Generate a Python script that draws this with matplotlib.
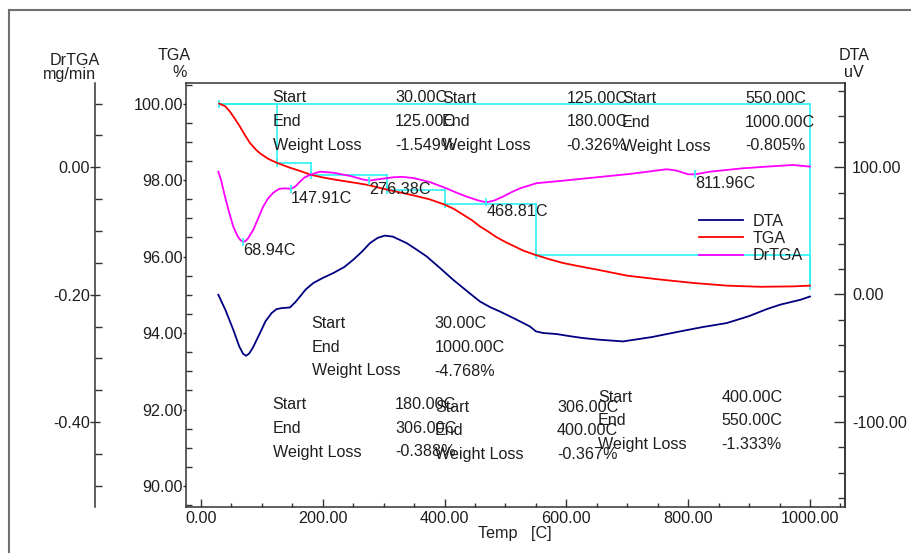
import numpy as np
import matplotlib
matplotlib.use("Agg")
import matplotlib.pyplot as plt
from matplotlib.lines import Line2D
from matplotlib.ticker import MultipleLocator, FormatStrFormatter

plt.rcParams['font.family'] = ['Liberation Sans', 'DejaVu Sans']

# ---------------- data ----------------
tga_T = [30, 40, 47.6, 55, 64, 72, 80.5, 90, 97, 110, 125, 145, 162.6, 180, 200, 217, 245, 272,
         306, 349, 375, 400, 415, 430, 445, 458, 472, 485, 500, 513, 530, 550, 570, 595, 620,
         650, 700, 754, 808, 863, 918, 972, 1000]
tga_val = [100.00, 99.93, 99.79, 99.62, 99.40, 99.18, 98.97, 98.80, 98.70, 98.56, 98.45, 98.33,
           98.24, 98.14, 98.07, 98.02, 97.95, 97.88, 97.75, 97.60, 97.50, 97.36, 97.25, 97.10,
           96.95, 96.79, 96.65, 96.51, 96.38, 96.28, 96.15, 96.04, 95.94, 95.83, 95.75, 95.66,
           95.50, 95.40, 95.31, 95.24, 95.21, 95.22, 95.24]

drtga_T = [28.5, 33, 39.4, 46, 53, 60, 64.5, 68.9, 73, 77, 86, 94, 102, 110, 118.7, 128, 138,
           147.9, 155, 162.6, 170, 179, 195, 217, 245, 265, 276.4, 290, 316, 330, 349, 375, 403,
           420, 436, 455, 468.8, 482, 496, 510, 524, 551, 595, 650, 704, 765, 781, 800, 812, 836,
           890, 929, 972, 1000]
drtga_val = [-0.007, -0.020, -0.046, -0.070, -0.093, -0.108, -0.114, -0.117, -0.116, -0.112,
             -0.098, -0.080, -0.062, -0.049, -0.040, -0.034, -0.033, -0.034, -0.030, -0.0226,
             -0.016, -0.012, -0.0069, -0.0085, -0.0136, -0.019, -0.021, -0.019, -0.0157, -0.015,
             -0.017, -0.023, -0.033, -0.040, -0.046, -0.052, -0.055, -0.052, -0.046, -0.039,
             -0.033, -0.025, -0.021, -0.0157, -0.0105, -0.0031, -0.0053, -0.011, -0.011,
             -0.0069, -0.0016, 0.001, 0.0036, 0.001]

dta_T = [28.5, 40, 53, 63, 69, 73.9, 79, 85, 96.9, 106, 116, 124, 132.5, 146, 155, 162.6, 172,
         184.4, 200, 217, 235, 250, 265, 277.5, 290, 302, 315, 337.7, 355, 370.6, 392, 414.3, 436,
         458, 475, 491, 515, 540, 550, 562, 584, 606, 628, 655, 693, 740, 787, 825, 863, 900,
         929, 951, 984, 1000]
dta_val = [-0.2, -12, -27.7, -41, -46.5, -48.2, -46.5, -42, -30.3, -21, -14.6, -11.5, -10.7,
           -10.2, -6, -1.6, 4, 9, 13, 16.8, 21.5, 27.3, 34, 40.4, 44.5, 46.3, 45.5, 40.4, 35,
           29.9, 21, 11.5, 3, -5.5, -10, -13.4, -19, -25.1, -29, -30.3, -31.1, -32.8, -34.3,
           -35.6, -36.9, -33.5, -29, -25.5, -22.5, -17, -11.5, -8, -4.2, -1.6]

# weight-loss steps: start, end, loss (%)
step_start = [30, 125, 180, 306, 400, 550]
step_end = [125, 180, 306, 400, 550, 1000]
step_loss = [-1.549, -0.326, -0.388, -0.367, -1.333, -0.805]
total_start, total_end, total_loss = 30, 1000, -4.768
start_level = 100.0

# DrTGA peaks
peak_T = [68.94, 147.91, 276.38, 468.81, 811.96]
peak_val = [-0.117, -0.034, -0.021, -0.055, -0.011]

x_ticks = [0, 200, 400, 600, 800, 1000]
tga_ticks = [90, 92, 94, 96, 98, 100]
drtga_ticks = [-0.40, -0.20, 0.00]
dta_ticks = [-100, 0, 100]

# ---------------- figure ----------------
W, H = 911, 553
def fx(x): return x / W
def fy(y): return 1 - y / H

fig = plt.figure(figsize=(W / 100, H / 100), dpi=100)
fig.patch.set_facecolor('white')

ax = fig.add_axes([fx(186), fy(507), 659 / W, 424 / H])
ax2 = ax.twinx()
ax3 = ax.twinx()

SP = '#333333'
TXT = '#1e1e1e'
FS = 11.6

ax.set_xlim(-24.6, 1057.5)
ax.set_ylim(89.45, 100.54)
ax2.set_ylim(-0.533, 0.1322)
ax3.set_ylim(-167.1, 166.3)

for a in (ax, ax2, ax3):
    for s in a.spines.values():
        s.set_color(SP)
        s.set_linewidth(1.1)

# main axis (TGA)
ax.set_xticks(x_ticks)
ax.xaxis.set_minor_locator(MultipleLocator(50))
ax.xaxis.set_major_formatter(FormatStrFormatter('%.2f'))
ax.set_yticks(tga_ticks)
ax.yaxis.set_minor_locator(MultipleLocator(0.5))
ax.yaxis.set_major_formatter(FormatStrFormatter('%.2f'))
ax.tick_params(axis='x', which='major', direction='in', length=6, pad=3, labelsize=FS,
               colors=SP, labelcolor=TXT, width=1)
ax.tick_params(axis='x', which='minor', direction='in', length=3, colors=SP, width=1)
ax.tick_params(axis='y', which='major', direction='out', length=2, pad=0.3, labelsize=FS,
               colors=SP, labelcolor=TXT, width=1)
ax.tick_params(axis='y', which='minor', direction='in', length=4, colors=SP, width=1)

# DrTGA axis (far left)
ax2.spines['left'].set_position(('axes', (95 - 186) / 659))
ax2.spines['right'].set_visible(False)
ax2.spines['top'].set_visible(False)
ax2.spines['bottom'].set_visible(False)
ax2.yaxis.tick_left()
ax2.set_yticks(drtga_ticks)
ax2.yaxis.set_minor_locator(MultipleLocator(0.05))
ax2.yaxis.set_major_formatter(FormatStrFormatter('%.2f'))
ax2.tick_params(axis='y', which='major', direction='inout', length=7, pad=0, labelsize=FS,
                colors=SP, labelcolor=TXT, width=1)
ax2.tick_params(axis='y', which='minor', direction='in', length=5, colors=SP, width=1)

# DTA axis (right)
ax3.spines['left'].set_visible(False)
ax3.spines['top'].set_visible(False)
ax3.spines['bottom'].set_visible(False)
ax3.set_yticks(dta_ticks)
ax3.yaxis.set_minor_locator(MultipleLocator(20))
ax3.yaxis.set_major_formatter(FormatStrFormatter('%.2f'))
ax3.tick_params(axis='y', which='major', direction='in', length=8, pad=5, labelsize=FS,
                colors=SP, labelcolor=TXT, width=1)
ax3.tick_params(axis='y', which='minor', direction='in', length=5, colors=SP, width=1)

CY = '#2cf4f4'
# weight-loss step markers (cyan)
levels = [start_level]
for loss in step_loss:
    levels.append(levels[-1] + loss)
ax.plot([total_start, total_end], [start_level, start_level], color=CY, lw=1.2, zorder=2)
ax.plot([total_end, total_end], [start_level, start_level + total_loss], color=CY, lw=1.2, zorder=2)
for i in range(len(step_start)):
    ax.plot([step_start[i], step_end[i]], [levels[i], levels[i]], color=CY, lw=1.2, zorder=2)
    ax.plot([step_end[i], step_end[i]], [levels[i], levels[i + 1]], color=CY, lw=1.2, zorder=2)
ax.plot([total_start] + step_end, [start_level] + levels[1:], ls='none', marker='|',
        ms=6, mew=1.2, color=CY, zorder=2)

# curves
l_tga, = ax.plot(tga_T, tga_val, color='#ff0000', lw=1.3, zorder=3)
l_dr, = ax2.plot(drtga_T, drtga_val, color='#ff00ff', lw=1.3, zorder=3)
ax2.plot(peak_T, peak_val, ls='none', marker='|', ms=6, mew=1.2, color=CY, zorder=4)
l_dta, = ax3.plot(dta_T, dta_val, color='#000080', lw=1.3, zorder=3)

for t, v in zip(peak_T, peak_val):
    ax2.annotate(f"{t:.2f}C", xy=(t, v), xytext=(0, -9.8), textcoords='offset points',
                 ha='left', va='baseline', fontsize=FS, color=TXT)

# legend
ax3.legend([l_dta, l_tga, l_dr], ['DTA', 'TGA', 'DrTGA'], loc='upper left',
           bbox_to_anchor=(fx(699), fy(214)), bbox_transform=fig.transFigure,
           frameon=False, borderpad=0, borderaxespad=0, fontsize=FS,
           handlelength=44 / 16.1, handletextpad=9.4 / 16.1, labelspacing=0.13,
           labelcolor=TXT)

# axis titles
fig.text(fx(75), fy(65), 'DrTGA', ha='center', va='baseline', fontsize=FS, color=TXT)
fig.text(fx(69), fy(79), 'mg/min', ha='center', va='baseline', fontsize=FS, color=TXT)
fig.text(fx(174), fy(59.5), 'TGA', ha='center', va='baseline', fontsize=FS, color=TXT)
fig.text(fx(180), fy(77), '%', ha='center', va='baseline', fontsize=FS, color=TXT)
fig.text(fx(854), fy(59.5), 'DTA', ha='center', va='baseline', fontsize=FS, color=TXT)
fig.text(fx(854), fy(77), 'uV', ha='center', va='baseline', fontsize=FS, color=TXT)
fig.text(fx(515), fy(538), 'Temp   [C]', ha='center', va='baseline', fontsize=FS, color=TXT)

# weight-loss tables
row_names = ['Start', 'End', 'Weight Loss']
tables = [
    (step_start[0], step_end[0], step_loss[0], 272.7, 395, 102.3),
    (step_start[1], step_end[1], step_loss[1], 442, 566.7, 102.8),
    (step_start[5], step_end[5], step_loss[5], 622, 745, 103.3),
    (total_start, total_end, total_loss, 311.7, 434.3, 328.3),
    (step_start[2], step_end[2], step_loss[2], 272.7, 395, 409.3),
    (step_start[3], step_end[3], step_loss[3], 435, 557, 411.7),
    (step_start[4], step_end[4], step_loss[4], 598, 721.7, 401.7),
]
for s, e, loss, xl, xv, y0 in tables:
    vals = [f"{s:.2f}C", f"{e:.2f}C", f"{loss:.3f}%"]
    for k in range(3):
        y = y0 + k * 23.6
        fig.text(fx(xl), fy(y), row_names[k], ha='left', va='baseline', fontsize=FS, color=TXT)
        fig.text(fx(xv), fy(y), vals[k], ha='left', va='baseline', fontsize=FS, color=TXT)

# outer frame
fig.add_artist(Line2D([fx(9), fx(9)], [fy(10), 0], color='#707070', lw=1.5))
fig.add_artist(Line2D([fx(9), 1], [fy(10), fy(10)], color='#707070', lw=1.5))

fig.savefig('out.png', dpi=100, facecolor='white')
